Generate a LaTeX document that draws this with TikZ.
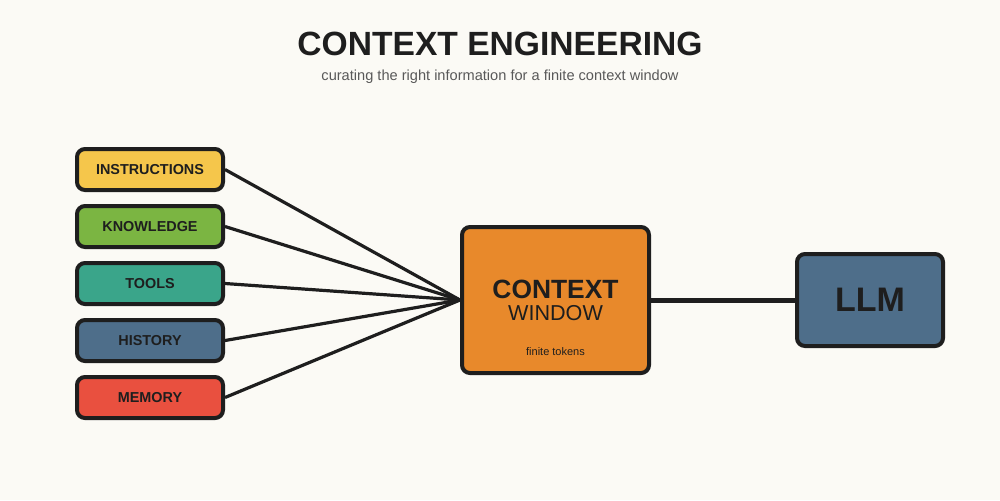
\documentclass[tikz,border=0pt]{standalone}
\usepackage{fontspec}
\setmainfont{Liberation Sans}
\begin{document}
\begin{tikzpicture}[x=0.5pt,y=-0.5pt,
  box/.style={draw=ink,line width=2pt,rounded corners=4pt,inner sep=0pt,text=ink},
  src/.style={box,minimum width=73pt,minimum height=20.5pt,font=\fontsize{7.2}{9}\bfseries},
  link/.style={draw=ink,line width=1.6pt}]
\definecolor{ink}{HTML}{1E1E1E}
\definecolor{bg}{HTML}{FBFAF5}
\definecolor{cI}{HTML}{F5C64B}
\definecolor{cK}{HTML}{7BB542}
\definecolor{cT}{HTML}{3AA58A}
\definecolor{cH}{HTML}{4E6E8A}
\definecolor{cM}{HTML}{E9503F}
\definecolor{cC}{HTML}{E8892B}
\fill[bg] (0,0) rectangle (1000,500);
\useasboundingbox (0,0) rectangle (1000,500);
\node (title) at (500,44) {\fontsize{16.8}{20}\bfseries\color{ink}CONTEXT ENGINEERING};
\node (sub) at (500,77) {\fontsize{7.3}{9}\selectfont\color{black!65}curating the right information for a finite context window};
\node[src,fill=cI] (i) at (150,169.5) {INSTRUCTIONS};
\node[src,fill=cK] (k) at (150,226.5) {KNOWLEDGE};
\node[src,fill=cT] (t) at (150,283.5) {TOOLS};
\node[src,fill=cH] (h) at (150,340.5) {HISTORY};
\node[src,fill=cM] (m) at (150,397.5) {MEMORY};
\node[box,fill=cC,minimum width=93.5pt,minimum height=73pt] (c) at (555.5,300) {};
\node[font=\fontsize{13.2}{14}\bfseries,text=ink] (c1) at (555.5,289) {CONTEXT};
\node[font=\fontsize{10.8}{12}\selectfont,text=ink] (c2) at (555.5,313) {WINDOW};
\node[font=\fontsize{5.5}{6}\selectfont,text=ink] (c3) at (555.5,352) {finite tokens};
\node[box,fill=cH,minimum width=73pt,minimum height=46pt,font=\fontsize{17}{18}\bfseries] (l) at (870,300) {LLM};
\foreach \n in {i,k,t,h,m} \draw[link] (\n.east) -- (c.west);
\draw[draw=ink,line width=2.5pt] (c.east) -- (l.west);
\end{tikzpicture}
\end{document}
